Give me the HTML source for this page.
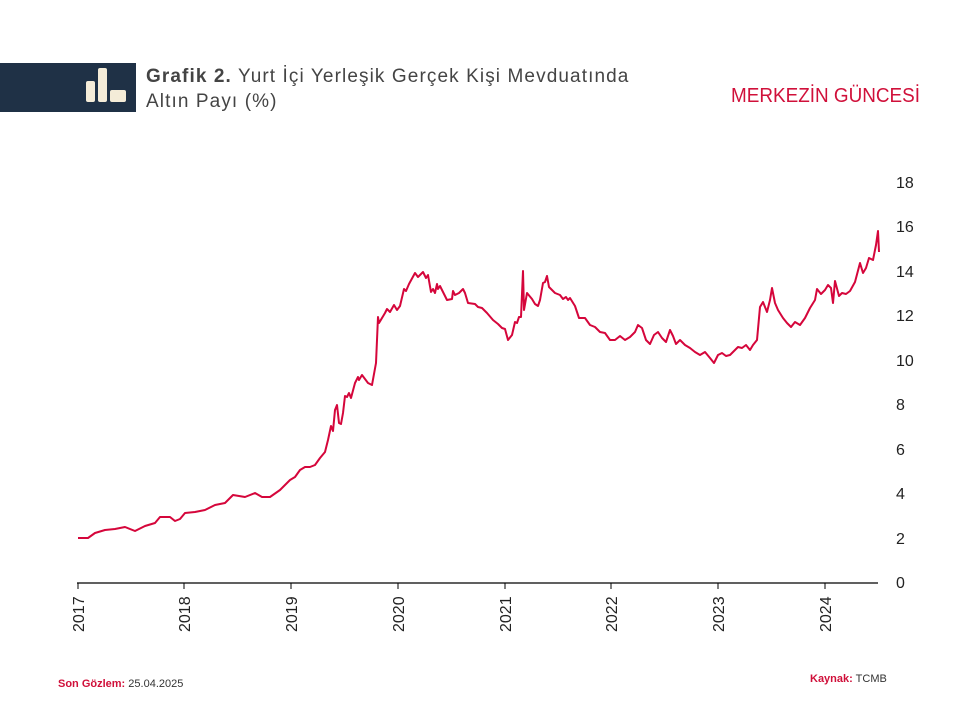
<!DOCTYPE html>
<html><head><meta charset="utf-8"><style>
body{margin:0;width:960px;height:720px;background:#fff;font-family:"Liberation Sans",sans-serif;overflow:hidden;position:relative}
.bar{position:absolute;left:0;top:63px;width:136px;height:49px;background:#1f3146}
.t{position:absolute;left:146px;top:64px;font-size:19px;color:#444;line-height:25px;letter-spacing:1.1px}
.mg{position:absolute;left:731px;top:85px;font-family:"Liberation Sans",sans-serif;font-size:20px;color:#d0103a;transform:scaleX(0.945);transform-origin:left top;white-space:nowrap}
.f{position:absolute;font-size:11px;color:#333}
.f b{color:#d0103a}
</style></head><body>
<div class="bar"><svg width="136" height="49"><g fill="#f4ecd8"><rect x="86" y="18" width="9" height="21" rx="2"/><rect x="98" y="5" width="9" height="34" rx="2"/><rect x="110" y="27" width="16" height="12" rx="2"/></g></svg></div>
<div class="t"><b>Grafik 2.</b> Yurt İçi Yerleşik Gerçek Kişi Mevduatında<br>Altın Payı (%)</div>
<div class="mg">MERKEZİN GÜNCESİ</div>
<svg width="960" height="720" style="position:absolute;left:0;top:0">
<g font-size="16" fill="#222" font-family="Liberation Sans,sans-serif">
<text x="896" y="188">18</text><text x="896" y="232">16</text><text x="896" y="277">14</text><text x="896" y="321">12</text><text x="896" y="366">10</text><text x="896" y="410">8</text><text x="896" y="455">6</text><text x="896" y="499">4</text><text x="896" y="544">2</text><text x="896" y="588">0</text>
</g>
<line x1="77" y1="583" x2="878" y2="583" stroke="#000" stroke-width="1.2"/>
<g stroke="#000"><line x1="78" y1="583" x2="78" y2="589"/><line x1="184" y1="583" x2="184" y2="589"/><line x1="291" y1="583" x2="291" y2="589"/><line x1="398" y1="583" x2="398" y2="589"/><line x1="505" y1="583" x2="505" y2="589"/><line x1="611" y1="583" x2="611" y2="589"/><line x1="718" y1="583" x2="718" y2="589"/><line x1="825" y1="583" x2="825" y2="589"/></g>
<g font-size="16" fill="#222">
<text transform="translate(84,632) rotate(-90)">2017</text><text transform="translate(190,632) rotate(-90)">2018</text><text transform="translate(297,632) rotate(-90)">2019</text><text transform="translate(404,632) rotate(-90)">2020</text><text transform="translate(511,632) rotate(-90)">2021</text><text transform="translate(617,632) rotate(-90)">2022</text><text transform="translate(724,632) rotate(-90)">2023</text><text transform="translate(831,632) rotate(-90)">2024</text>
</g>
<polyline fill="none" stroke="#d5063b" stroke-width="2" stroke-linejoin="round" points="78,538 88,538 95,533 105,530 115,529 125,527 135,531 145,526 155,523 160,517 170,517 175,521 180,519 185,513 195,512 205,510 215,505 225,503 233,495 245,497 255,493 262,497 270,497 280,490 285,485 290,480 295,477 300,470 305,467 310,467 315,465 320,458 325,452 328,440 331,426 333,431 335,410 337,405 339,423 341,424 343,413 345,396 347,397 349,393 351,398 355,383 358,377 359,380 362,375 368,383 372,385 376,363 378,317 379,323 385,313 387,309 390,312 394,305 397,310 400,306 404,289 406,291 409,284 415,273 418,277 423,272 426,278 428,275 431,292 433,289 435,293 437,284 438,289 440,286 447,300 452,299 453,291 455,295 459,293 463,289 465,293 468,303 475,304 478,307 482,308 487,313 493,320 498,324 502,328 505,329 508,340 512,335 515,322 517,323 519,317 521,317 523,271 524,310 527,293 532,299 535,304 538,306 540,300 543,283 545,282 547,276 549,287 555,293 560,295 563,299 566,297 568,300 570,298 575,306 579,318 585,318 590,325 595,327 600,332 605,333 610,340 615,340 620,336 625,340 630,337 635,332 638,325 642,328 646,340 650,344 654,335 658,332 662,338 666,342 670,330 673,336 676,344 680,340 685,345 690,348 695,352 700,355 705,352 710,358 714,363 718,355 722,353 726,356 730,355 735,350 738,347 742,348 746,345 750,350 753,345 757,340 760,307 763,302 767,312 770,300 772,288 775,303 778,310 783,318 787,323 791,327 795,322 800,325 805,318 810,308 815,300 817,289 821,294 825,290 828,285 831,288 833,303 835,281 839,296 842,293 846,294 850,291 855,282 860,263 863,273 866,268 869,258 873,260 876,245 878,231 879,252"/>
</svg>
<div class="f" style="left:58px;top:678px"><b>Son Gözlem:</b> 25.04.2025</div>
<div class="f" style="left:810px;top:673px"><b>Kaynak:</b> TCMB</div>
</body></html>
